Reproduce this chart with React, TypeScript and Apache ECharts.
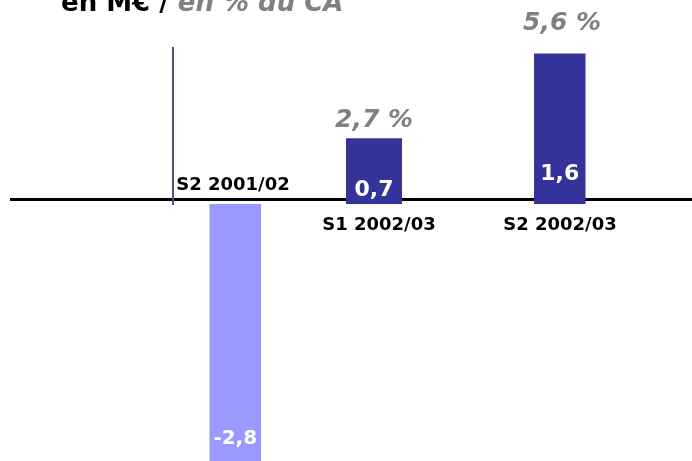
import React, { useEffect, useRef } from "react";
import * as echarts from "echarts";

// ---- data ----
const categories = ["S2 2001/02", "S1 2002/03", "S2 2002/03"];
const values = [-2.8, 0.7, 1.6];
const valueLabels = ["-2,8", "0,7", "1,6"];
const pctLabels = ["", "2,7 %", "5,6 %"];
const titleMain = "en M€ / ";
const titleSub = "en % du CA";

// ---- layout (slots on the category axis, label distances) ----
const SLOT = [0, 3, 7];
const N_SLOTS = 8;
const VALUE_LABEL_DIST = [14, 5, 21];
const VALUE_LABEL_SIZE = [20, 22, 22];
const PCT_DIST = [0, 7, 20];
const CAT_DIST = [12, 10, 10];
const CAT_OFFSET = [0, 5, -2];
const ZERO_Y = 204;
const PX_PER_UNIT = 94;
const H = 461;

const FONT = "'DejaVu Sans', sans-serif";

export default function App() {
  const ref = useRef<HTMLDivElement>(null);
  useEffect(() => {
    document.body.style.margin = "0";
    const chart = echarts.init(ref.current!, null, { renderer: "svg" });
    const axisData: string[] = [];
    for (let k = 0; k < N_SLOTS; k++) {
      const i = SLOT.indexOf(k);
      axisData.push(i >= 0 ? categories[i] : "gap" + k);
    }
    chart.setOption({
      animation: false,
      title: {
        text: "{a|" + titleMain + "}{b|" + titleSub + "}",
        left: 56,
        top: -16,
        textStyle: {
          rich: {
            a: { fontFamily: FONT, fontWeight: "bold", fontSize: 26, color: "#000" },
            b: {
              fontFamily: FONT,
              fontWeight: "bold",
              fontStyle: "italic",
              fontSize: 26,
              color: "#808080",
            },
          },
        },
      },
      grid: { left: 209.5, width: 376, top: 0, bottom: 0 },
      xAxis: {
        type: "category",
        data: axisData,
        show: false,
        boundaryGap: true,
      },
      yAxis: {
        type: "value",
        min: -(H - ZERO_Y) / PX_PER_UNIT,
        max: ZERO_Y / PX_PER_UNIT,
        show: false,
      },
      series: [
        {
          type: "bar",
          barWidth: 56,
          barMinWidth: 56,
          z: 3,
          clip: true,
          data: values.map((v, i) => ({
            value: [SLOT[i], v],
            itemStyle: { color: v < 0 ? "#9999FF" : "#333399" },
            label: {
              show: true,
              position: "insideBottom",
              distance: VALUE_LABEL_DIST[i],
              formatter: valueLabels[i],
              color: "#fff",
              fontFamily: FONT,
              fontWeight: "bold",
              fontSize: VALUE_LABEL_SIZE[i],
            },
          })),
        },
        {
          type: "scatter",
          symbolSize: 0,
          z: 4,
          itemStyle: { opacity: 1 },
          label: {
            color: "#808080",
            fontFamily: FONT,
            fontWeight: "bold",
            fontStyle: "italic",
            fontSize: 25,
          },
          data: values.map((v, i) => ({
            value: [SLOT[i], v],
            label: {
              show: pctLabels[i] !== "",
              position: "top",
              distance: PCT_DIST[i],
              formatter: pctLabels[i],
            },
          })),
        },
        {
          type: "scatter",
          symbolSize: 0,
          z: 4,
          itemStyle: { opacity: 1 },
          label: {
            color: "#000",
            fontFamily: FONT,
            fontWeight: "bold",
            fontSize: 18,
          },
          data: values.map((v, i) => ({
            value: [SLOT[i], 0],
            label: {
              show: true,
              position: v < 0 ? "top" : "bottom",
              distance: CAT_DIST[i],
              offset: [CAT_OFFSET[i], 0],
              formatter: categories[i],
            },
          })),
        },
      ],
    });
    const y0 = chart.convertToPixel({ yAxisIndex: 0 }, 0) as number;
    chart.setOption({
      graphic: [
        {
          type: "line",
          z: 1,
          shape: { x1: 10, y1: y0 - 4.5, x2: 692, y2: y0 - 4.5 },
          style: { stroke: "#000", lineWidth: 3 },
        },
        {
          type: "line",
          z: 1,
          shape: { x1: 173, y1: 47, x2: 173, y2: y0 + 1 },
          style: { stroke: "#604c8c", lineWidth: 2 },
        },
      ],
    });
    return () => chart.dispose();
  }, []);
  return (
    <div
      ref={ref}
      style={{ position: "fixed", left: 0, top: 0, width: 692, height: 461 }}
    />
  );
}
